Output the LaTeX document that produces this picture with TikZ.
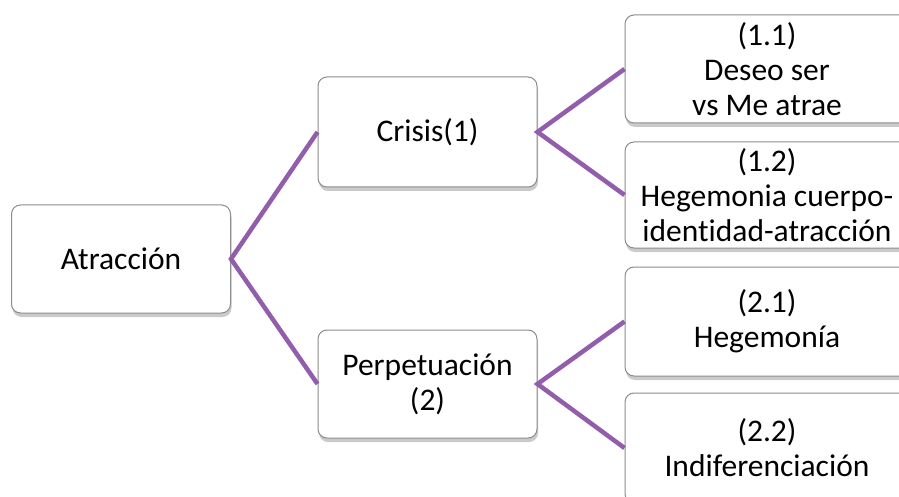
\documentclass[tikz,border=0pt]{standalone}
\usepackage{fontspec}
\setmainfont[Ligatures=NoCommon]{Carlito}
\usetikzlibrary{shadows}
\definecolor{conn}{RGB}{146,94,172}
\definecolor{edge}{RGB}{140,140,140}
\begin{document}
\begin{tikzpicture}[x=1pt,y=-1pt,
  box/.style={draw=edge, line width=1pt, fill=white, rounded corners=9pt,
    align=center, inner sep=0pt,
    font=\fontsize{31.5}{35}\selectfont,
    drop shadow={shadow xshift=1pt, shadow yshift=-4pt, opacity=0.35, fill=black!60}},
  link/.style={draw=conn, line width=4.5pt}]
\useasboundingbox (0,0) rectangle (899,497);
\clip (0,0) rectangle (899,497);
\node[box, minimum width=219pt, minimum height=108pt] (a) at (121,259) {Atracción};
\node[box, minimum width=219pt, minimum height=110pt] (c) at (427.5,132) {Crisis(1)};
\node[box, minimum width=219pt, minimum height=108pt] (p) at (427.5,384) {Perpetuación\\(2)};
\node[box, minimum width=284pt, minimum height=108pt] (c1) at (767,69) {(1.1)\\Deseo ser\\vs Me atrae};
\node[box, minimum width=284pt, minimum height=106pt] (c2) at (767,195) {(1.2)\\Hegemonia cuerpo-\\identidad-atracción};
\node[box, minimum width=284pt, minimum height=109pt] (p1) at (767,321.5) {(2.1)\\Hegemonía};
\node[box, minimum width=284pt, minimum height=110pt] (p2) at (767,448) {(2.2)\\Indiferenciación};
\draw[link] (c.west) -- (a.east) -- (p.west);
\draw[link] (c1.west) -- (c.east) -- (c2.west);
\draw[link] (p1.west) -- (p.east) -- (p2.west);
\end{tikzpicture}
\end{document}
